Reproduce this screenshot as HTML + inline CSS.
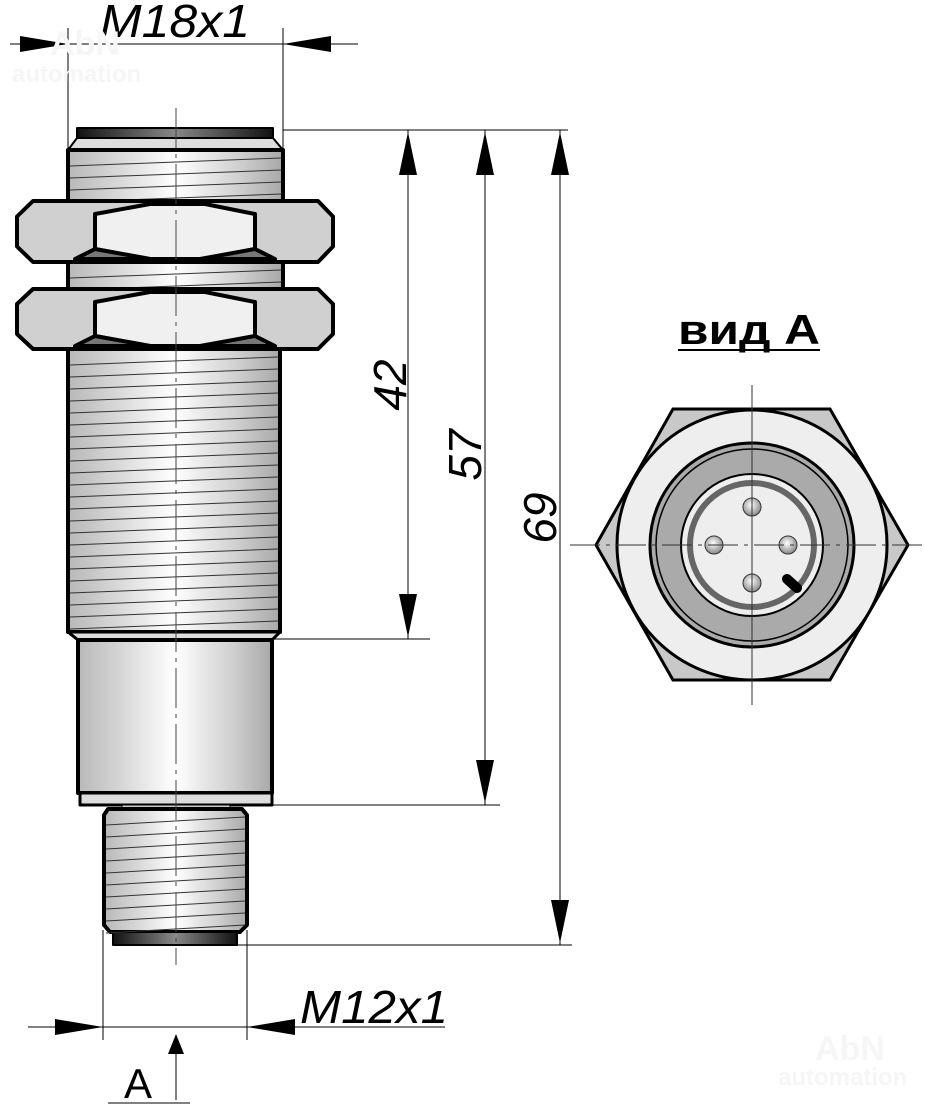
<!DOCTYPE html>
<html><head><meta charset="utf-8"><style>
html,body{margin:0;padding:0;background:#fff}
svg{display:block}
text{font-family:"Liberation Sans",sans-serif}
</style></head><body>
<svg id="s" width="925" height="1107" viewBox="0 0 925 1107" xmlns="http://www.w3.org/2000/svg">
<defs>
<linearGradient id="cyl" x1="0" x2="1" y1="0" y2="0">
<stop offset="0" stop-color="#b8b8b8"/><stop offset="0.25" stop-color="#dadada"/><stop offset="0.5" stop-color="#ffffff"/><stop offset="0.8" stop-color="#cfcfcf"/><stop offset="1" stop-color="#a8a8a8"/></linearGradient>
<linearGradient id="dark" x1="0" x2="1"><stop offset="0" stop-color="#111"/><stop offset="0.5" stop-color="#888"/><stop offset="1" stop-color="#111"/></linearGradient>
<radialGradient id="pin" cx="0.45" cy="0.4" r="0.6"><stop offset="0" stop-color="#fff"/><stop offset="1" stop-color="#888"/></radialGradient>
</defs>
<g stroke="#000" stroke-width="4" stroke-linejoin="round">
<rect x="77" y="128" width="196" height="10" fill="url(#dark)" stroke-width="2"/>
<path d="M77,138 L273,138 L283,150 L68,150 Z" fill="#ddd" stroke-width="2"/>
<rect x="68" y="150" width="215" height="52" fill="url(#cyl)"/>
<rect x="68" y="262" width="215" height="28" fill="url(#cyl)"/>
<rect x="68" y="349" width="212" height="283" fill="url(#cyl)"/>
<path d="M68,632 L280,632 L272,640 L78,640 Z" fill="#ddd" stroke-width="3"/>
<rect x="78" y="640" width="194" height="153" fill="url(#cyl)"/>
<rect x="80" y="793" width="192" height="12" fill="#ddd" stroke-width="3"/>
<rect x="122" y="805" width="108" height="5" fill="#ccc" stroke-width="1"/>
<path d="M108,809 L242,809 L247,815 L247,925 L240,932 L110,932 L104,925 L104,815 Z" fill="url(#cyl)"/>
<rect x="113" y="932" width="124" height="13" fill="url(#dark)" stroke-width="2"/>
</g>
<g id="threads" stroke="#333" stroke-width="1"></g>
<g id="nuts" stroke="#000" stroke-width="4" stroke-linejoin="round"></g>
<line x1="176" y1="108" x2="176" y2="965" stroke="#444" stroke-width="1" stroke-dasharray="40,6,4,6"/>
<g stroke="#000" stroke-width="1">
<line x1="68" y1="28" x2="68" y2="148"/><line x1="283" y1="28" x2="283" y2="148"/>
<line x1="10" y1="44" x2="358" y2="44"/>
<line x1="283" y1="130" x2="568" y2="130"/>
<line x1="272" y1="639" x2="430" y2="639"/>
<line x1="272" y1="805" x2="500" y2="805"/>
<line x1="237" y1="945" x2="572" y2="945"/>
<line x1="408" y1="130" x2="408" y2="639"/>
<line x1="485" y1="130" x2="485" y2="805"/>
<line x1="560" y1="130" x2="560" y2="945"/>
<line x1="103" y1="930" x2="103" y2="1040"/><line x1="247" y1="930" x2="247" y2="1040"/>
<line x1="28" y1="1027" x2="445" y2="1027"/>
<line x1="176" y1="1100" x2="176" y2="1048"/>
<line x1="108" y1="1103" x2="190" y2="1103"/>
</g>
<g fill="#000">
<path d="M68,44 L20,36 L20,52 Z"/><path d="M283,44 L331,36 L331,52 Z"/>
<path d="M408,132 L399,175 L417,175 Z"/><path d="M408,637 L399,594 L417,594 Z"/>
<path d="M485,132 L476,175 L494,175 Z"/><path d="M485,803 L476,760 L494,760 Z"/>
<path d="M560,132 L551,175 L569,175 Z"/><path d="M560,943 L551,900 L569,900 Z"/>
<path d="M103,1027 L55,1019 L55,1035 Z"/><path d="M247,1027 L295,1019 L295,1035 Z"/>
<path d="M176,1034 L168,1054 L184,1054 Z"/>
</g>
<g font-style="italic" font-size="46" fill="#000">
<text x="100" y="37" textLength="150" lengthAdjust="spacingAndGlyphs">M18x1</text>
<text x="300" y="1023" textLength="148" lengthAdjust="spacingAndGlyphs">M12x1</text>
<text transform="translate(406,385) rotate(-90)" text-anchor="middle">42</text>
<text transform="translate(481,455) rotate(-90)" text-anchor="middle">57</text>
<text transform="translate(556,518) rotate(-90)" text-anchor="middle">69</text>
</g>
<text x="124" y="1098" font-size="42" fill="#000">A</text>
<text x="678" y="344" font-size="42" font-weight="bold" fill="#000" textLength="142" lengthAdjust="spacingAndGlyphs">вид А</text>
<line x1="678" y1="350" x2="820" y2="350" stroke="#000" stroke-width="2"/>
<g stroke="#000" stroke-width="3">
<path d="M673,409 L830,409 L908,545 L830,680 L673,680 L596,545 Z" fill="#c8c8c8"/>
<circle cx="752" cy="545" r="135" fill="#eee"/>
<circle cx="752" cy="545" r="102" fill="#aaa"/>
<circle cx="752" cy="545" r="96" fill="none" stroke-width="1.5"/>
<circle cx="752" cy="545" r="71" fill="#eee" stroke-width="2"/>
<circle cx="752" cy="545" r="62" fill="none" stroke="#666" stroke-width="6"/>
</g>
<g stroke="#333" stroke-width="1" fill="url(#pin)">
<circle cx="752" cy="507" r="9"/><circle cx="714" cy="545" r="9"/><circle cx="788" cy="545" r="9"/><circle cx="752" cy="583" r="9"/>
</g>
<line x1="787" y1="579" x2="797" y2="588" stroke="#000" stroke-width="10" stroke-linecap="round"/>
<g stroke="#333" stroke-width="1">
<line x1="752" y1="385" x2="752" y2="705"/>
<line x1="570" y1="545" x2="925" y2="545" stroke-dasharray="30,6,4,6"/>
</g>
<g fill="#f6f6f6" font-size="34" font-weight="bold">
<text x="50" y="55">AbN</text><text x="12" y="82" font-size="24">automation</text>
<text x="815" y="1060">AbN</text><text x="778" y="1085" font-size="24">automation</text>
</g>
</svg>
<script>
var ns="http://www.w3.org/2000/svg";
var t=document.getElementById("threads");
function th(x1,x2,y1,y2,step){for(var y=y1+step;y<y2;y+=step){var l=document.createElementNS(ns,"line");l.setAttribute("x1",x1+2);l.setAttribute("x2",x2-2);l.setAttribute("y1",y+4);l.setAttribute("y2",y-4);t.appendChild(l);}}
th(68,283,150,202,12);th(68,283,262,290,12);th(68,280,349,632,12);th(104,247,809,932,12);
var n=document.getElementById("nuts");
function nut(y0,y1){
var m=(y0+y1)/2;
var p=function(d,f){var e=document.createElementNS(ns,"path");e.setAttribute("d",d);e.setAttribute("fill",f);n.appendChild(e);};
p("M17,"+(m-15)+" L33,"+y0+" L318,"+y0+" L333,"+(m-15)+" L333,"+(m+15)+" L318,"+y1+" L33,"+y1+" L17,"+(m+15)+" Z","#d0d0d0");
p("M95,"+(y0+13)+" L150,"+(y0+3)+" L205,"+(y0+3)+" L255,"+(y0+13)+" L255,"+(y1-13)+" L205,"+(y1-3)+" L150,"+(y1-3)+" L95,"+(y1-13)+" Z","#f0f0f0");
p("M75,"+(y1-3)+" L95,"+(y1-13)+" L150,"+(y1-3)+" Z","#777");
p("M200,"+(y1-3)+" L255,"+(y1-13)+" L275,"+(y1-3)+" Z","#777");
}
nut(201,262);nut(289,349);
</script>
</body></html>
